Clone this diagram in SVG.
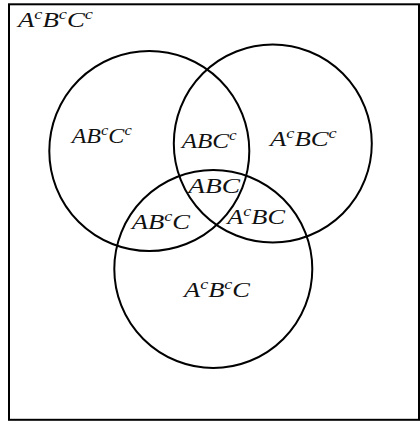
<svg xmlns="http://www.w3.org/2000/svg" width="420" height="422" viewBox="0 0 420 422">
<style>
.frame{fill:none;stroke:#000;stroke-width:2}
.set{fill:none;stroke:#000;stroke-width:2}
.lbl{font-family:"Liberation Serif","DejaVu Serif",serif;font-style:italic;font-size:22px;fill:#111}
.sup{font-size:15px}
</style>
<rect width="420" height="422" fill="#fff"/>
<g id="universe">
<rect class="frame" x="9" y="4.3" width="410" height="415.5"/>
<text class="lbl" x="18" y="27" textLength="75" lengthAdjust="spacingAndGlyphs">A<tspan class="sup" dy="-8">c</tspan><tspan dy="8">B</tspan><tspan class="sup" dy="-8">c</tspan><tspan dy="8">C</tspan><tspan class="sup" dy="-8">c</tspan></text>
</g>
<g id="circle-A"><circle class="set" cx="149.3" cy="151" r="100"/></g>
<g id="circle-B"><circle class="set" cx="272.8" cy="143.5" r="99"/></g>
<g id="circle-C"><circle class="set" cx="213.3" cy="269" r="99"/></g>
<g id="labels">
<text class="lbl" x="71.7" y="143.3" textLength="60" lengthAdjust="spacingAndGlyphs">AB<tspan class="sup" dy="-8">c</tspan><tspan dy="8">C</tspan><tspan class="sup" dy="-8">c</tspan></text>
<text class="lbl" x="181.7" y="148.3" textLength="55" lengthAdjust="spacingAndGlyphs">ABC<tspan class="sup" dy="-8">c</tspan></text>
<text class="lbl" x="270" y="146" textLength="66.7" lengthAdjust="spacingAndGlyphs">A<tspan class="sup" dy="-8">c</tspan><tspan dy="8">BC</tspan><tspan class="sup" dy="-8">c</tspan></text>
<text class="lbl" x="188.3" y="193.3" textLength="51.7" lengthAdjust="spacingAndGlyphs">ABC</text>
<text class="lbl" x="131.7" y="229.3" textLength="58.3" lengthAdjust="spacingAndGlyphs">AB<tspan class="sup" dy="-8">c</tspan><tspan dy="8">C</tspan></text>
<text class="lbl" x="227.3" y="224.3" textLength="57.7" lengthAdjust="spacingAndGlyphs">A<tspan class="sup" dy="-8">c</tspan><tspan dy="8">BC</tspan></text>
<text class="lbl" x="184" y="297.3" textLength="66" lengthAdjust="spacingAndGlyphs">A<tspan class="sup" dy="-8">c</tspan><tspan dy="8">B</tspan><tspan class="sup" dy="-8">c</tspan><tspan dy="8">C</tspan></text>
</g>
</svg>
